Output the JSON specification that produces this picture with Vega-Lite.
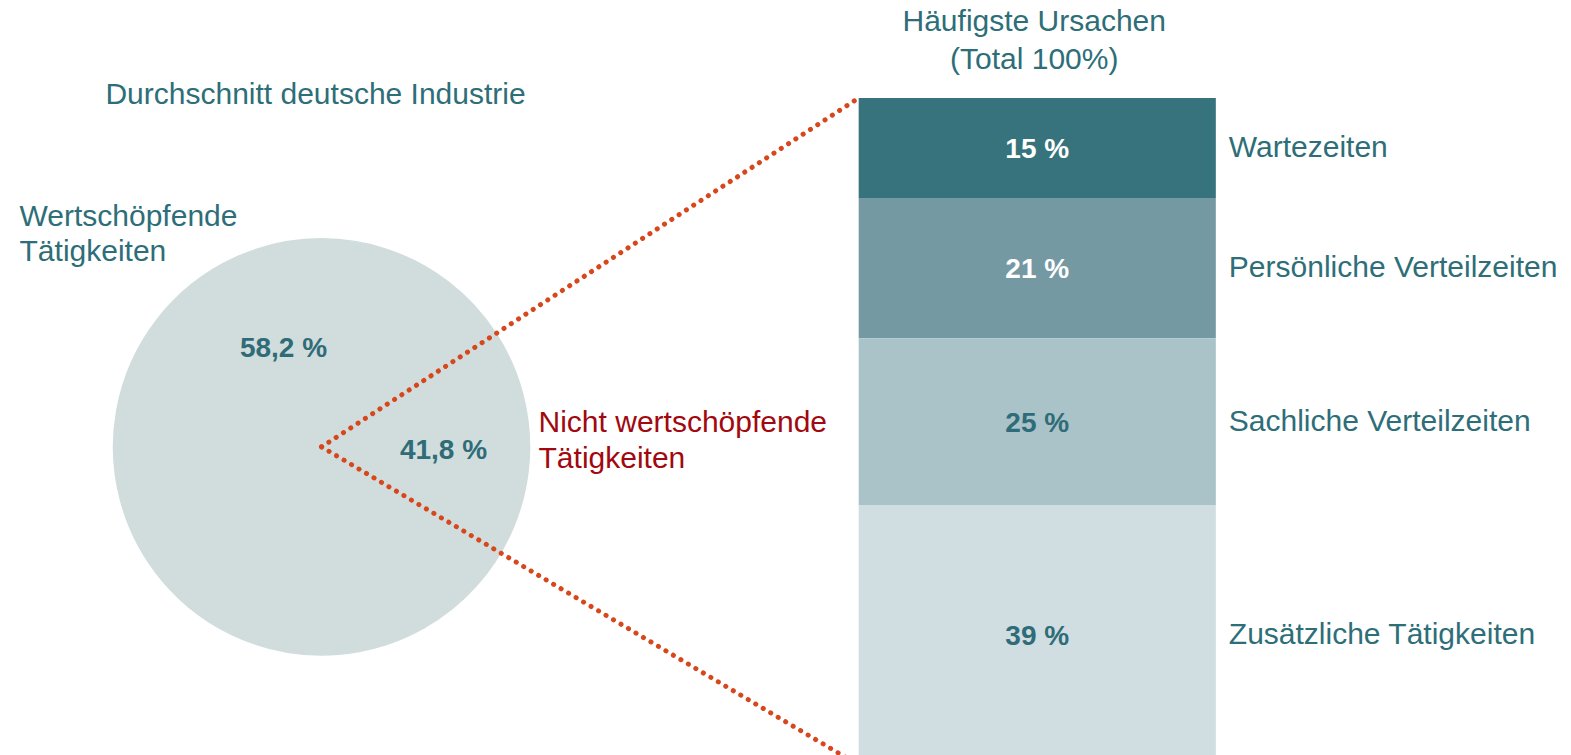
{
  "$schema": "https://vega.github.io/schema/vega-lite/v6.json",
  "width": 1571,
  "height": 755,
  "padding": 0,
  "autosize": "none",
  "background": "white",
  "config": {"view": {"stroke": null}, "font": "Liberation Sans"},
  "datasets": {
    "pie": [
      {"chart": "Durchschnitt deutsche Industrie", "group": "Wertschöpfende Tätigkeiten", "share": 58.2, "label": "58,2 %"},
      {"chart": "Durchschnitt deutsche Industrie", "group": "Nicht wertschöpfende Tätigkeiten", "share": 41.8, "label": "41,8 %"}
    ],
    "causes": [
      {"chart": "Häufigste Ursachen", "cause": "Wartezeiten", "share": 15, "label": "15 %"},
      {"chart": "Häufigste Ursachen", "cause": "Persönliche Verteilzeiten", "share": 21, "label": "21 %"},
      {"chart": "Häufigste Ursachen", "cause": "Sachliche Verteilzeiten", "share": 25, "label": "25 %"},
      {"chart": "Häufigste Ursachen", "cause": "Zusätzliche Tätigkeiten", "share": 39, "label": "39 %"}
    ]
  },
  "layer": [
    {
      "data": {"name": "pie"},
      "mark": {"type": "arc", "outerRadius": 208, "fill": "#d1dddd", "stroke": "#d1dddd", "strokeWidth": 1.5, "clip": true},
      "encoding": {
        "theta": {"field": "share", "type": "quantitative", "stack": true},
        "order": {"field": "share", "type": "quantitative"},
        "x": {"field": "chart", "type": "nominal", "axis": null, "scale": {"type": "band", "domain": ["Durchschnitt deutsche Industrie", "Häufigste Ursachen"], "paddingInner": 0.501, "paddingOuter": 0.348, "align": 0.287}},
        "y": {"datum": 52.3, "type": "quantitative", "axis": null, "scale": {"domain": [-14.7, 98.5], "reverse": true, "zero": false, "nice": false}}
      }
    },
    {
      "data": {"values": [{}]},
      "mark": {"type": "rule", "stroke": "#d8461b", "strokeWidth": 5, "strokeCap": "round", "strokeDash": [0.1, 8.6], "clip": true},
      "encoding": {
        "x": {"datum": "Durchschnitt deutsche Industrie", "type": "nominal"},
        "x2": {"datum": "Häufigste Ursachen", "bandPosition": 0},
        "y": {"datum": 52.3, "type": "quantitative"},
        "y2": {"datum": 0}
      }
    },
    {
      "data": {"values": [{}]},
      "mark": {"type": "rule", "stroke": "#d8461b", "strokeWidth": 5, "strokeCap": "round", "strokeDash": [0.1, 8.6], "clip": true},
      "encoding": {
        "x": {"datum": "Durchschnitt deutsche Industrie", "type": "nominal"},
        "x2": {"datum": "Häufigste Ursachen", "bandPosition": 0},
        "y": {"datum": 52.3, "type": "quantitative"},
        "y2": {"datum": 100}
      }
    },
    {
      "data": {"name": "pie"},
      "mark": {"type": "text", "fontSize": 28, "fontWeight": "bold", "fill": "#2f6c78", "align": "center", "baseline": "middle"},
      "encoding": {
        "theta": {"field": "share", "type": "quantitative", "stack": true, "scale": {"range": [-0.1955, 8.419]}},
        "radius": {"field": "share", "type": "quantitative", "scale": {"domain": [41.8, 58.2], "range": [122, 105], "zero": false}},
        "order": {"field": "share", "type": "quantitative"},
        "x": {"field": "chart", "type": "nominal"},
        "y": {"datum": 52.3, "type": "quantitative"},
        "text": {"field": "label"}
      }
    },
    {
      "data": {"name": "causes"},
      "mark": {"type": "bar", "clip": true},
      "encoding": {
        "x": {"field": "chart", "type": "nominal"},
        "y": {"field": "share", "type": "quantitative", "stack": "zero"},
        "order": {"field": "share", "type": "quantitative"},
        "color": {"field": "cause", "type": "nominal", "legend": null, "scale": {"domain": ["Wartezeiten", "Persönliche Verteilzeiten", "Sachliche Verteilzeiten", "Zusätzliche Tätigkeiten"], "range": ["#37737c", "#7499a3", "#a9c3c9", "#d0dee2"]}}
      }
    },
    {
      "data": {"name": "causes"},
      "mark": {"type": "text", "fontSize": 28, "fontWeight": "bold", "align": "center", "baseline": "middle", "dy": 2},
      "encoding": {
        "x": {"field": "chart", "type": "nominal"},
        "y": {"field": "share", "type": "quantitative", "stack": "zero", "bandPosition": 0.5},
        "order": {"field": "share", "type": "quantitative"},
        "detail": {"field": "cause"},
        "text": {"field": "label"},
        "color": {"condition": {"test": "datum.share < 22", "value": "white"}, "value": "#2f6c78"}
      }
    },
    {
      "data": {"name": "causes"},
      "mark": {"type": "text", "fontSize": 30, "align": "left", "baseline": "middle", "dx": 13, "fill": "#2d6e78"},
      "encoding": {
        "x": {"field": "chart", "type": "nominal", "bandPosition": 1},
        "y": {"field": "share", "type": "quantitative", "stack": "zero", "bandPosition": 0.5},
        "order": {"field": "share", "type": "quantitative"},
        "detail": {"field": "cause"},
        "text": {"field": "cause"}
      }
    },
    {
      "data": {"values": [{}]},
      "mark": {"type": "text", "text": "Durchschnitt deutsche Industrie", "fontSize": 30, "align": "center", "baseline": "middle", "fill": "#2d6e78", "dx": -6},
      "encoding": {
        "x": {"datum": "Durchschnitt deutsche Industrie", "type": "nominal"},
        "y": {"datum": -0.5, "type": "quantitative"}
      }
    },
    {
      "data": {"values": [{}]},
      "mark": {"type": "text", "text": ["Häufigste Ursachen", "(Total 100%)"], "fontSize": 30, "lineHeight": 38, "align": "center", "baseline": "middle", "fill": "#2d6e78", "dx": -3},
      "encoding": {
        "x": {"datum": "Häufigste Ursachen", "type": "nominal"},
        "y": {"datum": -11.4, "type": "quantitative"}
      }
    },
    {
      "data": {"values": [{}]},
      "mark": {"type": "text", "text": ["Wertschöpfende", "Tätigkeiten"], "fontSize": 30, "lineHeight": 35, "align": "left", "baseline": "middle", "fill": "#2d6e78", "dx": -302},
      "encoding": {
        "x": {"datum": "Durchschnitt deutsche Industrie", "type": "nominal"},
        "y": {"datum": 17.8, "type": "quantitative"}
      }
    },
    {
      "data": {"values": [{}]},
      "mark": {"type": "text", "text": ["Nicht wertschöpfende", "Tätigkeiten"], "fontSize": 30, "lineHeight": 36, "align": "left", "baseline": "middle", "fill": "#a1080f", "dx": 217},
      "encoding": {
        "x": {"datum": "Durchschnitt deutsche Industrie", "type": "nominal"},
        "y": {"datum": 48.7, "type": "quantitative"}
      }
    }
  ],
  "resolve": {"scale": {"theta": "independent", "radius": "independent", "color": "independent"}}
}
